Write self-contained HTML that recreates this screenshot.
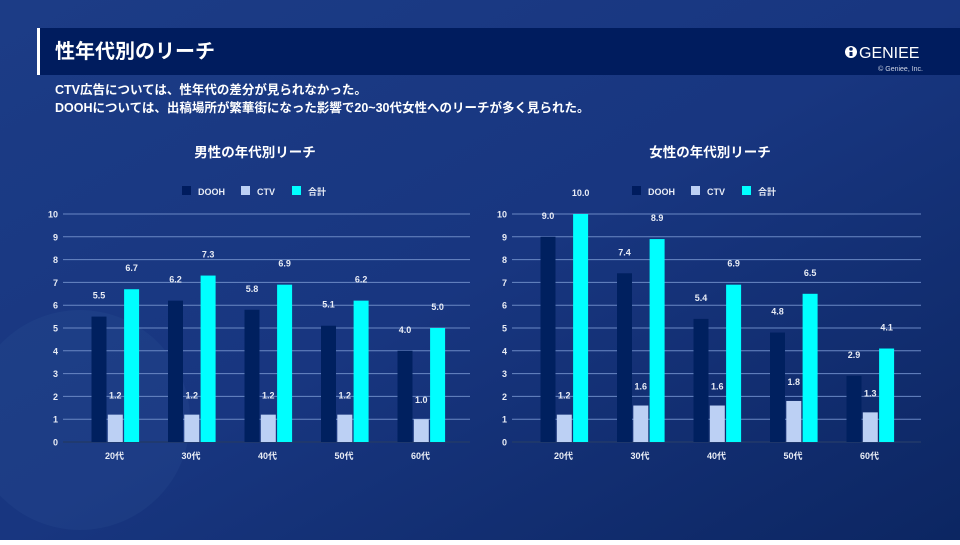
<!DOCTYPE html>
<html><head><meta charset="utf-8"><style>
body{margin:0;width:960px;height:540px;overflow:hidden;font-family:"Liberation Sans","Noto Sans CJK JP",sans-serif;}
</style></head><body>
<svg width="960" height="540" xmlns="http://www.w3.org/2000/svg" font-family="Liberation Sans, Noto Sans CJK JP, sans-serif">
<defs>
<linearGradient id="bg" x1="0" y1="0" x2="1" y2="1">
<stop offset="0" stop-color="#1c3c86"/><stop offset="0.5" stop-color="#183680"/><stop offset="1" stop-color="#0c2662"/>
</linearGradient>
</defs>
<rect width="960" height="540" fill="url(#bg)"/>
<circle cx="80" cy="420" r="110" fill="#2a4f95" opacity="0.25"/>
<rect x="37" y="28" width="923" height="47" fill="#001c5e"/>
<rect x="37" y="28" width="3" height="47" fill="#ffffff"/>
<text x="55" y="58" font-size="20" font-weight="bold" fill="#fff">性年代別のリーチ</text>
<circle cx="851" cy="52" r="6" fill="#fff"/><circle cx="851" cy="49" r="1.8" fill="#001c5e"/><rect x="849.5" y="52" width="3" height="4" fill="#001c5e"/>
<text x="859" y="58" font-size="16" fill="#fff">GENIEE</text>
<text x="923" y="71" font-size="7" fill="#cfd6e6" text-anchor="end">© Geniee, Inc.</text>
<text x="55" y="94" font-size="12.5" font-weight="bold" fill="#fff">CTV広告については、性年代の差分が見られなかった。</text>
<text x="55" y="112" font-size="12.5" font-weight="bold" fill="#fff">DOOHについては、出稿場所が繁華街になった影響で20~30代女性へのリーチが多く見られた。</text>

<text x="255" y="157" font-size="13.5" font-weight="bold" fill="#fff" text-anchor="middle">男性の年代別リーチ</text>
<text x="710" y="157" font-size="13.5" font-weight="bold" fill="#fff" text-anchor="middle">女性の年代別リーチ</text>

<g font-size="9" font-weight="bold" fill="#e8ecf5">
<rect x="182" y="186" width="9" height="9" fill="#001c5e"/><text x="198" y="195">DOOH</text>
<rect x="241" y="186" width="9" height="9" fill="#bcd0f4"/><text x="257" y="195">CTV</text>
<rect x="292" y="186" width="9" height="9" fill="#00ffff"/><text x="308" y="195">合計</text>
<rect x="632" y="186" width="9" height="9" fill="#001c5e"/><text x="648" y="195">DOOH</text>
<rect x="691" y="186" width="9" height="9" fill="#bcd0f4"/><text x="707" y="195">CTV</text>
<rect x="742" y="186" width="9" height="9" fill="#00ffff"/><text x="758" y="195">合計</text>
</g>
<g id="charts"></g>
</svg>
<script>
var NS="http://www.w3.org/2000/svg",g=document.getElementById("charts");
function el(t,a,txt){var e=document.createElementNS(NS,t);for(var k in a)e.setAttribute(k,a[k]);if(txt!=null)e.textContent=txt;g.appendChild(e);}
function chart(x0,x1,bx,d){
 for(var i=0;i<=10;i++){var y=442-22.8*i;
  el("line",{x1:x0,x2:x1,y1:y,y2:y,stroke:i==0?"#223a6a":"#6a88c4","stroke-width":i==0?1.5:1});
  el("text",{x:x0-5,y:y+3.5,"font-size":"9","font-weight":"bold",fill:"#e8ecf5","text-anchor":"end"},i);}
 var labs=["20代","30代","40代","50代","60代"],cols=["#00205f","#bcd0f4","#00ffff"];
 for(var j=0;j<5;j++){var gx=bx+j*76.5;
  for(var k=0;k<3;k++){var v=d[k][j],x=gx+k*16.3,h=v*22.8;
   el("rect",{x:x,y:442-h,width:15,height:h,fill:cols[k]});
   el("text",{x:x+7.5,y:442-h-(k==1?16:18),"font-size":"9","font-weight":"bold",fill:"#e8ecf5","text-anchor":"middle"},v.toFixed(1));}
  el("text",{x:gx+23,y:459,"font-size":"9","font-weight":"bold",fill:"#e8ecf5","text-anchor":"middle"},labs[j]);}
}
chart(63,470,91.5,[[5.5,6.2,5.8,5.1,4.0],[1.2,1.2,1.2,1.2,1.0],[6.7,7.3,6.9,6.2,5.0]]);
chart(512,921,540.5,[[9.0,7.4,5.4,4.8,2.9],[1.2,1.6,1.6,1.8,1.3],[10.0,8.9,6.9,6.5,4.1]]);
</script>
</body></html>
